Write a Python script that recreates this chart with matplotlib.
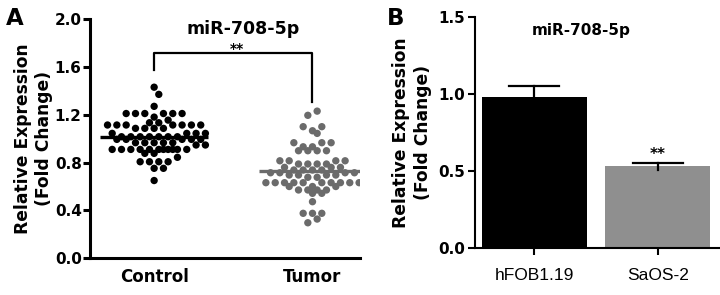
import numpy as np
import matplotlib
matplotlib.use("Agg")
import matplotlib.pyplot as plt

plt.rcParams['font.family'] = ['DejaVu Sans']

# Panel A: scatter dot plot values (fold change)
control = [1.43, 1.37, 1.27,
           1.21, 1.21, 1.21, 1.21, 1.21, 1.21,
           1.18, 1.155,
           1.133, 1.133,
           1.114, 1.114, 1.114, 1.114, 1.114, 1.114, 1.114,
           1.086, 1.086, 1.086, 1.086,
           1.044, 1.044, 1.044, 1.044,
           1.016, 1.016, 1.016, 1.016, 1.016, 1.016, 1.016,
           0.994, 0.994, 0.994, 0.994, 0.994,
           0.966, 0.966, 0.966, 0.966, 0.966,
           0.947, 0.947,
           0.91, 0.91, 0.91, 0.91, 0.91, 0.91, 0.91, 0.91, 0.91, 0.91, 0.91,
           0.877, 0.877,
           0.844,
           0.807, 0.807, 0.807, 0.807,
           0.752, 0.752,
           0.65]
tumor = [1.23, 1.195, 1.10, 1.10, 1.066, 1.044,
         0.966, 0.966, 0.966,
         0.932, 0.932,
         0.899, 0.899, 0.899, 0.899,
         0.815, 0.815, 0.815, 0.815,
         0.788, 0.788, 0.788, 0.788,
         0.76, 0.76, 0.76,
         0.738, 0.738, 0.738, 0.738,
         0.715, 0.715, 0.715, 0.715,
         0.696, 0.696, 0.696, 0.696,
         0.677, 0.677,
         0.632, 0.632, 0.632, 0.632, 0.632, 0.632, 0.632, 0.632, 0.632, 0.632,
         0.60, 0.60, 0.60,
         0.571, 0.571, 0.571, 0.571,
         0.543, 0.543,
         0.473,
         0.376, 0.376, 0.376,
         0.328, 0.297]
groups_a = ['Control', 'Tumor']

# Panel B: bar chart
cells = ['hFOB1.19', 'SaOS-2']
bar_means = [0.98, 0.53]
bar_err = [0.07, 0.024]


def binned_x(vals, center, sp, hb=0.04, maxn=11, close=0.06):
    """GraphPad-style layout: values within hb share a row of evenly spaced dots."""
    vals = np.asarray(vals, dtype=float)
    order = np.argsort(-vals, kind='stable')
    bins, cur = [], [order[0]]
    for i in order[1:]:
        if vals[cur[0]] - vals[i] <= hb + 1e-9 and len(cur) < maxn:
            cur.append(i)
        else:
            bins.append(cur)
            cur = [i]
    bins.append(cur)
    xs = np.zeros(len(vals))
    prev_y, prev_half = None, None
    for b in bins:
        n = len(b)
        half = (n % 2 == 0)
        slots = (np.arange(n) - (n - 1) / 2)
        if prev_y is not None and prev_y - vals[b[0]] < close and half == prev_half:
            slots = slots + 0.5
            half = not half
        slots = sorted(slots, key=lambda s: (abs(s), s))
        pts = sorted(b, key=lambda i: vals[i])  # lower values nearer the middle
        for i, s in zip(pts, slots):
            xs[i] = center + s * sp
        prev_y, prev_half = vals[b[-1]], half
    return xs


fig = plt.figure(figsize=(7.2, 2.95), dpi=100)
tick_fs = 11
lab_fs = 12.3
bold = dict(fontweight='bold')

# ---------- Panel A ----------
axA = fig.add_axes([0.125, 0.1244, 0.375, 0.8112])
for i, (vals, col) in enumerate([(control, 'black'), (tumor, '#6b6b6b')]):
    c = i + 1
    xs = binned_x(vals, c, 9.3 / 158.0)
    axA.scatter(xs, vals, s=28, color=col, edgecolors='none', zorder=3)
    m = np.mean(vals)
    axA.plot([c - 0.34, c + 0.34], [m, m], color=col, lw=2.4, zorder=4,
             solid_capstyle='butt')

axA.set_xlim(0.595, 2.30)
axA.set_ylim(0, 2.0)
axA.set_yticks([0.0, 0.4, 0.8, 1.2, 1.6, 2.0])
axA.set_yticklabels(['0.0', '0.4', '0.8', '1.2', '1.6', '2.0'], fontsize=tick_fs, **bold)
axA.set_xticks([1, 2])
axA.set_xticklabels(groups_a, fontsize=12, **bold)
axA.tick_params(axis='x', length=0, pad=7)
axA.tick_params(axis='y', length=5, width=2.2, pad=1)
for s in ['top', 'right']:
    axA.spines[s].set_visible(False)
for s in ['left', 'bottom']:
    axA.spines[s].set_linewidth(2.2)
axA.set_ylabel('Relative Expression\n(Fold Change)', fontsize=lab_fs, labelpad=1,
               linespacing=1.25, **bold)
axA.text(0.566, 0.995, 'miR-708-5p', transform=axA.transAxes, ha='center', va='top',
         fontsize=12.5, **bold)
# significance bracket
axA.plot([1, 1, 2, 2], [1.57, 1.72, 1.72, 1.31], color='black', lw=1.6, clip_on=False)
axA.text(1.52, 1.72, '**', ha='center', va='baseline', fontsize=10, **bold)
fig.text(0.008, 0.975, 'A', fontsize=16.5, va='top', **bold)

# ---------- Panel B ----------
axB = fig.add_axes([0.66, 0.159, 0.3395, 0.783])
x = np.arange(len(cells))
colors = ['black', '#8f8f8f']
axB.bar(x, bar_means, width=0.85, color=colors, zorder=2)
for xi, m, e in zip(x, bar_means, bar_err):
    axB.plot([xi, xi], [m - 0.02, m + e], color='black', lw=1.6, zorder=3)
    axB.plot([xi - 0.2, xi + 0.2], [m + e, m + e], color='black', lw=1.6, zorder=3)
axB.text(x[1], bar_means[1] + bar_err[1] + 0.005, '**', ha='center', va='bottom',
         fontsize=11, **bold)
axB.set_xlim(-0.476, 1.5)
axB.set_ylim(0, 1.5)
axB.set_yticks([0.0, 0.5, 1.0, 1.5])
axB.set_yticklabels(['0.0', '0.5', '1.0', '1.5'], fontsize=tick_fs, **bold)
axB.set_xticks(x)
axB.set_xticklabels(cells, fontsize=12.5, family='Liberation Sans')
axB.tick_params(axis='both', length=5, width=1.5, pad=2)
axB.tick_params(axis='x', pad=9)
for s in ['top', 'right']:
    axB.spines[s].set_visible(False)
for s in ['left', 'bottom']:
    axB.spines[s].set_linewidth(1.5)
axB.set_ylabel('Relative Expression\n(Fold Change)', fontsize=lab_fs, labelpad=5,
               linespacing=1.25, **bold)
axB.text(0.38, 1.46, 'miR-708-5p', ha='center', va='top', fontsize=11, **bold)
fig.text(0.538, 0.975, 'B', fontsize=16.5, va='top', **bold)

fig.savefig('out.png', dpi=100)
